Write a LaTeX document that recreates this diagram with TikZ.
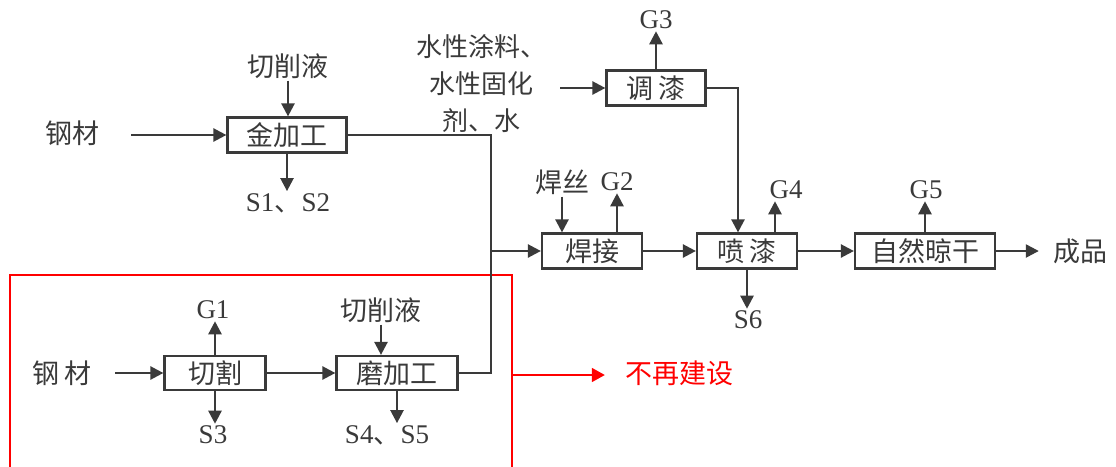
\documentclass[tikz,border=0pt]{standalone}
\usepackage{fontspec}
\setmainfont{Liberation Serif}
\newfontfamily\cjk{Noto Sans CJK SC}
\usetikzlibrary{arrows.meta}
\definecolor{ink}{HTML}{3A3A3A}
\definecolor{redc}{HTML}{FF0000}
\begin{document}
\begin{tikzpicture}[x=1pt,y=-1pt,
 every node/.style={text=ink, inner sep=2pt},
 proc/.style={draw=ink, line width=2.2pt, minimum height=35pt, inner sep=0pt, font=\fontsize{27}{30}\selectfont\cjk},
 cn/.style={font=\fontsize{27}{36}\selectfont\cjk},
 lat/.style={font=\fontsize{27}{30}\selectfont},
 arr/.style={draw=ink, line width=2.4pt, -{Triangle[length=13pt,width=13pt]}},
 ln/.style={draw=ink, line width=2.4pt},
 redarr/.style={draw=redc, line width=1.8pt, -{Triangle[length=13pt,width=14pt]}},
]
\useasboundingbox[fill=white] (0,0) rectangle (1116,466);

% upper line
\node[cn] (gc1) at (72,133) {钢材};
\node[proc, minimum width=119pt] (jin) at (287,135) {金加工};
\node[cn] (qxy1) at (288,66) {切削液};
\node[lat] (s12) at (288,203) {S1{\cjk 、}S2};

\coordinate (j1) at (491,135);
\coordinate (j2) at (491,251);
\coordinate (j3) at (491,373);

\node[cn, align=center, font=\fontsize{26}{37}\selectfont\cjk] (water) at (481,84) {水性涂料、\\水性固化\\剂、水};
\node[proc, minimum width=99pt] (tiao) at (656,88) {调\,漆};
\node[lat] (g3) at (656,20) {G3};
\coordinate (c1) at (738,88);

\node[proc, minimum width=100pt] (han) at (592,251) {焊接};
\node[cn] (hansi) at (562,182) {焊丝};
\node[lat] (g2) at (617,182) {G2};

\node[proc, minimum width=100pt] (pen) at (747,251) {喷\,漆};
\node[lat] (g4) at (786,190) {G4};
\node[lat] (s6) at (748,320) {S6};

\node[proc, minimum width=140pt] (zr) at (925,251) {自然晾干};
\node[lat] (g5) at (926,190) {G5};
\node[cn] (cp) at (1080,251) {成品};

% lower line
\node[cn] (gc2) at (62,373) {钢\,材};
\node[proc, minimum width=101pt, minimum height=34pt] (qg) at (215,373) {切割};
\node[lat] (g1) at (213,310) {G1};
\node[lat] (s3) at (213,435) {S3};
\node[proc, minimum width=121pt, minimum height=34pt] (mo) at (397,373) {磨加工};
\node[cn] (qxy2) at (381,310) {切削液};
\node[lat] (s45) at (387,435) {S4{\cjk 、}S5};

% red part
\draw[draw=redc, line width=1.8pt] (10,472) -- (10,275) -- (512,275) -- (512,472);
\coordinate (rb) at (512,375);
\node[cn, text=redc] (bz) at (679,373) {不再建设};

% connectors
\draw[arr] ([xshift=30pt]gc1.east |- jin.west) -- (jin.west);
\draw[arr] (qxy1.south) -- (qxy1.south |- jin.north);
\draw[arr] (jin.south) -- (jin.south |- s12.north);
\draw[ln] (jin.east) -- (j1) -- (j3) -- (mo.east);
\draw[arr] (j2) -- (han.west);
\draw[arr] (hansi.south) -- (hansi.south |- han.north);
\draw[arr] (g2.south |- han.north) -- (g2.south);
\draw[arr] (han.east) -- (pen.west);
\draw[arr] ([xshift=12pt]water.east |- tiao.west) -- (tiao.west);
\draw[arr] (tiao.north) -- (tiao.north |- g3.south);
\draw[arr] (tiao.east) -- (c1) -- (c1 |- pen.north);
\draw[arr] ([xshift=28pt]pen.north) -- ([xshift=28pt]pen.north |- g4.south);
\draw[arr] (pen.south) -- (pen.south |- s6.north);
\draw[arr] (pen.east) -- (zr.west);
\draw[arr] (zr.north) -- (zr.north |- g5.south);
\draw[arr] (zr.east) -- ([xshift=-12pt]cp.west);

\draw[arr] ([xshift=22pt]gc2.east |- qg.west) -- (qg.west);
\draw[arr] (qg.north) -- (qg.north |- g1.south);
\draw[arr] (qg.south) -- (qg.south |- s3.north);
\draw[arr] (qg.east) -- (mo.west);
\draw[arr] (qxy2.south) -- (qxy2.south |- mo.north);
\draw[arr] (mo.south) -- (mo.south |- s45.north);
\draw[redarr, shorten >=18pt] (rb) -- (rb -| bz.west);
\end{tikzpicture}
\end{document}
